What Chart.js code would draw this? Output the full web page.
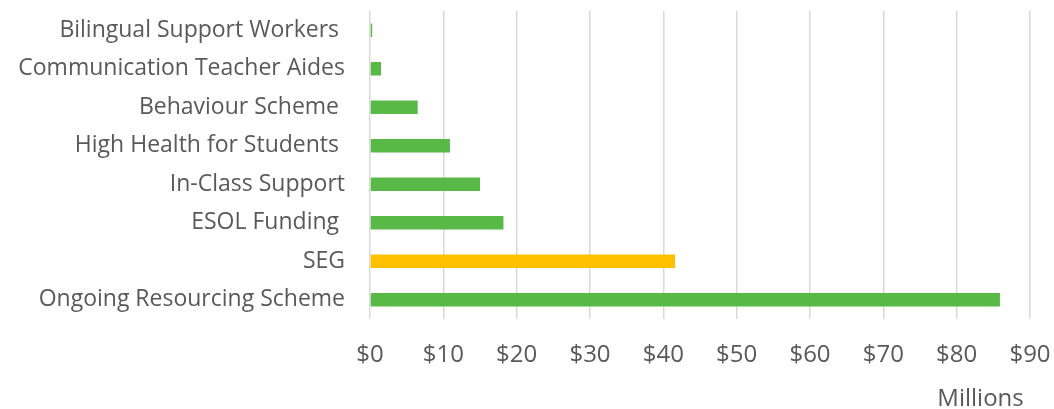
<!DOCTYPE html>
<html>
<head>
<meta charset="utf-8">
<script src="https://cdn.jsdelivr.net/npm/chart.js@4"></script>
<style>
html,body{margin:0;padding:0;background:#fff;}
#wrap{width:1054px;height:409px;position:relative;}
</style>
</head>
<body>
<div id="wrap"><canvas id="c"></canvas></div>
<script>
const categories = [
  "Bilingual Support Workers ",
  "Communication Teacher Aides",
  "Behaviour Scheme ",
  "High Health for Students ",
  "In-Class Support",
  "ESOL Funding ",
  "SEG",
  "Ongoing Resourcing Scheme"
];
const fundingMillions = [0.3, 1.5, 6.5, 10.9, 15.0, 18.2, 41.6, 85.9];
const tickValues = [0, 10, 20, 30, 40, 50, 60, 70, 80, 90];
const axisTitle = "Millions";
const highlighted = "SEG";

const GREEN = "#58b947";
const GOLD = "#ffc000";
const TEXT = "#595959";
const FONT = "'Open Sans', sans-serif";

new Chart(document.getElementById('c'), {
  type: 'bar',
  data: {
    labels: categories,
    datasets: [{
      data: fundingMillions,
      backgroundColor: ctx => categories[ctx.dataIndex] === highlighted ? GOLD : GREEN,
      borderWidth: 0,
      categoryPercentage: 1,
      barPercentage: 0.35
    }]
  },
  options: {
    indexAxis: 'y',
    responsive: true,
    maintainAspectRatio: false,
    animation: false,
    layout: { padding: { top: 11, right: 24, left: 0, bottom: 0 } },
    plugins: { legend: { display: false }, tooltip: { enabled: false } },
    scales: {
      x: {
        min: 0, max: 90,
        afterBuildTicks: s => { s.ticks = tickValues.map(v => ({ value: v })); },
        afterFit: s => { s.height = 90; s.paddingLeft = 0; s.paddingRight = 0; },
        grid: { color: '#d9d9d9', lineWidth: 1.5, drawTicks: false },
        border: { display: false },
        ticks: {
          padding: 22,
          color: TEXT,
          font: { family: FONT, size: 24 },
          callback: v => '$' + v
        },
        title: {
          display: true,
          text: axisTitle + ' ',
          align: 'end',
          color: TEXT,
          font: { family: FONT, size: 24 },
          padding: { top: 0, bottom: -5 }
        }
      },
      y: {
        afterFit: s => { s.width = 370; s.paddingTop = 0; s.paddingBottom = 0; },
        grid: { display: false, drawTicks: false },
        border: { display: false },
        ticks: {
          padding: 25,
          color: TEXT,
          font: { family: FONT, size: 23 }
        }
      }
    }
  }
});
</script>
</body>
</html>
